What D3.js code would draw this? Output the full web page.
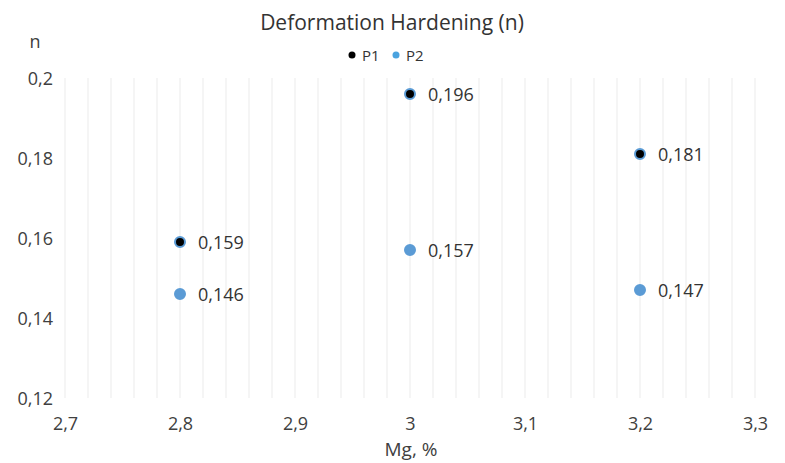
<!DOCTYPE html>
<html><head><meta charset="utf-8">
<script src="https://cdn.jsdelivr.net/npm/d3@7"></script>
<style>body{margin:0;background:#fff}text{font-family:"Open Sans",sans-serif}</style>
</head><body><svg id="c" width="785" height="463"></svg>
<script>
const xValues = [2.8, 3.0, 3.2];
const p1Values = [0.159, 0.196, 0.181];
const p2Values = [0.146, 0.157, 0.147];
const seriesNames = ["P1", "P2"];
const xTicks = [2.7, 2.8, 2.9, 3.0, 3.1, 3.2, 3.3];
const yTicks = [0.12, 0.14, 0.16, 0.18, 0.2];

const svg = d3.select("#c");
const x = d3.scaleLinear().domain([2.7, 3.3]).range([65, 755]);
const y = d3.scaleLinear().domain([0.12, 0.2]).range([398, 78]);
const fmt = v => String(+v.toFixed(3)).replace(".", ",");

// minor vertical gridlines every 0.02
const grid = d3.range(0, 31).map(i => 2.7 + i * 0.02);
svg.append("g").selectAll("line").data(grid).join("line")
  .attr("x1", d => x(d)).attr("x2", d => x(d))
  .attr("y1", y(0.2)).attr("y2", y(0.12))
  .attr("stroke", "#ebebeb").attr("stroke-width", 1);

// axes
const xAxis = svg.append("g").attr("transform", `translate(0,${y(0.12)})`)
  .call(d3.axisBottom(x).tickValues(xTicks).tickFormat(fmt).tickSize(0).tickPadding(19));
const yAxis = svg.append("g").attr("transform", `translate(53,0)`)
  .call(d3.axisLeft(y).tickValues(yTicks).tickFormat(fmt).tickSize(0).tickPadding(0));
[xAxis, yAxis].forEach(a => {
  a.select(".domain").remove();
  a.selectAll("text").attr("font-size", 18).attr("fill", "#404040").attr("font-family", "Open Sans");
});
yAxis.selectAll("text").attr("dy", "0.35em");

// series
const series = [
  {name: seriesNames[0], vals: p1Values, fill: "#000", stroke: "#5b9bd5"},
  {name: seriesNames[1], vals: p2Values, fill: "#5b9bd5", stroke: "#5b9bd5"}
];
series.forEach(s => {
  const g = svg.append("g");
  const pts = xValues.map((xv, i) => ({x: xv, y: s.vals[i]}));
  g.selectAll("circle").data(pts).join("circle")
    .attr("cx", d => x(d.x)).attr("cy", d => y(d.y)).attr("r", 5)
    .attr("fill", s.fill).attr("stroke", s.stroke).attr("stroke-width", 2);
  g.selectAll("text").data(pts).join("text")
    .attr("x", d => x(d.x) + 18).attr("y", d => y(d.y) + 7)
    .attr("font-size", 18).attr("fill", "#333").text(d => fmt(d.y));
});

// title
svg.append("text").attr("x", 392).attr("y", 30).attr("text-anchor", "middle")
  .attr("font-size", 21).attr("fill", "#333").text("Deformation Hardening (n)");
svg.append("text").attr("x", 35).attr("y", 48).attr("text-anchor", "middle")
  .attr("font-size", 18).attr("fill", "#404040").text("n");
svg.append("text").attr("x", 411).attr("y", 456).attr("text-anchor", "middle")
  .attr("font-size", 19).attr("fill", "#404040").text("Mg, %");

// legend
const legColors = ["#000", "#4aa3df"];
const lg = svg.append("g");
const legX = [352, 396];
seriesNames.forEach((n, i) => {
  lg.append("circle").attr("cx", legX[i]).attr("cy", 55).attr("r", 3.5).attr("fill", legColors[i]);
  lg.append("text").attr("x", legX[i] + 10).attr("y", 61).attr("font-size", 15).attr("fill", "#333").text(n);
});
</script></body></html>
